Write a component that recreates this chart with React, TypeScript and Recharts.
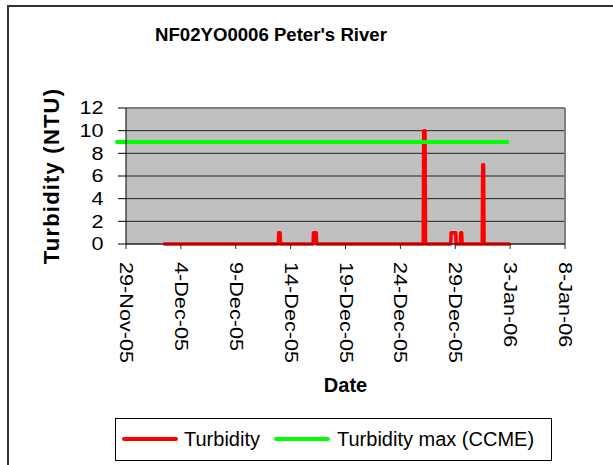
import { LineChart, Line, XAxis, YAxis, CartesianGrid, ReferenceLine } from 'recharts';

const FONT = '"Liberation Sans", Arial, sans-serif';

// readings (local date/time) and turbidity in NTU
const turbidityTimes = [
  '2005-12-02 12:00',
  '2005-12-12 21:00', '2005-12-12 22:00', '2005-12-13 01:00', '2005-12-13 02:00',
  '2005-12-16 01:00', '2005-12-16 02:00', '2005-12-16 08:00', '2005-12-16 09:00',
  '2005-12-26 02:00', '2005-12-26 03:00', '2005-12-26 06:00', '2005-12-26 07:00',
  '2005-12-28 14:00', '2005-12-28 15:00', '2005-12-29 01:00', '2005-12-29 02:00',
  '2005-12-29 11:00', '2005-12-29 12:00', '2005-12-29 14:00', '2005-12-29 15:00',
  '2005-12-31 11:00', '2005-12-31 12:00', '2005-12-31 14:00', '2005-12-31 15:00',
  '2006-01-02 22:00',
];
const turbidityValues = [
  0,
  0, 1, 1, 0,
  0, 1, 1, 0,
  0, 10, 10, 0,
  0, 1, 1, 0,
  0, 1, 1, 0,
  0, 7, 7, 0,
  0,
];

// CCME guideline
const maxTimes = ['2005-11-28 04:00', '2006-01-02 18:00'];
const maxValues = [9, 9];

const tickDates = ['2005-11-29', '2005-12-04', '2005-12-09', '2005-12-14', '2005-12-19', '2005-12-24', '2005-12-29', '2006-01-03', '2006-01-08'];
const tickLabels = ['29-Nov-05', '4-Dec-05', '9-Dec-05', '14-Dec-05', '19-Dec-05', '24-Dec-05', '29-Dec-05', '3-Jan-06', '8-Jan-06'];
const yTicks = [0, 2, 4, 6, 8, 10, 12];

const BASE = Date.UTC(2005, 10, 29);
const toDays = (s: string) => {
  const iso = s.length > 10 ? s.replace(' ', 'T') + ':00Z' : s + 'T00:00:00Z';
  return (Date.parse(iso) - BASE) / 86400000;
};

const turbidityData = turbidityTimes.map((t, i) => ({ t: toDays(t), v: turbidityValues[i] }));
const maxSegment = maxTimes.map((t, i) => ({ x: toDays(t), y: maxValues[i] }));
const xTicks = tickDates.map(toDays);
const labelFor = (d: number) => tickLabels[xTicks.indexOf(d)] ?? '';

const DateTick = (props: any) => {
  const { x, y, payload } = props;
  return (
    <text
      transform={`translate(${x + 0.5},${y + 11}) rotate(90) scale(1.17,1)`}
      textAnchor="start"
      dominantBaseline="central"
      fontSize={18.5}
      fontFamily={FONT}
      fill="#000"
    >
      {labelFor(payload.value)}
    </text>
  );
};

const ValueTick = (props: any) => {
  const { x, y, payload } = props;
  return (
    <text
      transform={`translate(${x - 12.5},${y}) scale(1.17,1)`}
      textAnchor="end"
      dominantBaseline="central"
      fontSize={18.5}
      fontFamily={FONT}
      fill="#000"
    >
      {payload.value}
    </text>
  );
};

export default function App() {
  return (
    <div style={{ position: 'absolute', left: 0, top: 0, width: 613, height: 465, overflow: 'hidden', background: '#fff' }}>
      {/* frame */}
      <div style={{ position: 'absolute', left: 7, top: 5, width: 700, height: 600, borderTop: '2px solid #333', borderLeft: '2px solid #333' }} />

      <div
        style={{
          position: 'absolute', left: 0, top: 26, width: 542, textAlign: 'center',
          fontFamily: FONT, fontWeight: 'bold', fontSize: 18.6, lineHeight: '18.6px', color: '#000',
        }}
      >
        NF02YO0006 Peter's River
      </div>

      <LineChart
        width={613}
        height={465}
        margin={{ top: 108, right: 48, left: 26, bottom: 73 }}
        style={{ position: 'absolute', left: 0, top: 0 }}
      >
        <CartesianGrid vertical={false} fill="#C0C0C0" fillOpacity={1} stroke="#222" />
        <XAxis
          type="number"
          dataKey="t"
          domain={[0, 40]}
          ticks={xTicks}
          interval={0}
          height={148}
          tickSize={5}
          stroke="#222"
          tick={<DateTick />}
          label={{ value: 'Date', position: 'insideBottom', offset: 0, style: { fontFamily: FONT, fontWeight: 'bold', fontSize: 20, fill: '#000' } }}
        />
        <YAxis
          type="number"
          domain={[0, 12]}
          ticks={yTicks}
          interval={0}
          width={100}
          tickSize={8}
          stroke="#000"
          tick={<ValueTick />}
          label={{
            value: 'Turbidity (NTU)', angle: -90, position: 'insideLeft', offset: 25,
            style: { textAnchor: 'middle', fontFamily: FONT, fontWeight: 'bold', fontSize: 22, letterSpacing: 1.2, fill: '#000' },
          }}
        />
        <ReferenceLine y={12} stroke="#808080" strokeWidth={2} />
        <ReferenceLine x={40} stroke="#808080" strokeWidth={2} />
        <Line
          data={turbidityData}
          dataKey="v"
          type="linear"
          stroke="#FF0000"
          strokeWidth={3.5}
          strokeLinejoin="round"
          strokeLinecap="round"
          dot={false}
          activeDot={false}
          isAnimationActive={false}
        />
        <ReferenceLine segment={maxSegment} ifOverflow="visible" stroke="#00FF00" strokeWidth={4} strokeLinecap="round" />
      </LineChart>

      {/* legend */}
      <div
        style={{
          position: 'absolute', left: 115, top: 418, width: 437, height: 43, boxSizing: 'border-box',
          border: '1px solid #000', fontFamily: FONT, fontSize: 20, lineHeight: '20px', color: '#000',
        }}
      >
        <div style={{ position: 'absolute', left: 6, top: 18, width: 56, height: 4, borderRadius: 2, background: '#FF0000' }} />
        <span style={{ position: 'absolute', left: 68, top: 10, whiteSpace: 'nowrap' }}>Turbidity</span>
        <div style={{ position: 'absolute', left: 158, top: 18, width: 56, height: 4, borderRadius: 2, background: '#00FF00' }} />
        <span style={{ position: 'absolute', left: 221, top: 10, whiteSpace: 'nowrap' }}>Turbidity max (CCME)</span>
      </div>
    </div>
  );
}
